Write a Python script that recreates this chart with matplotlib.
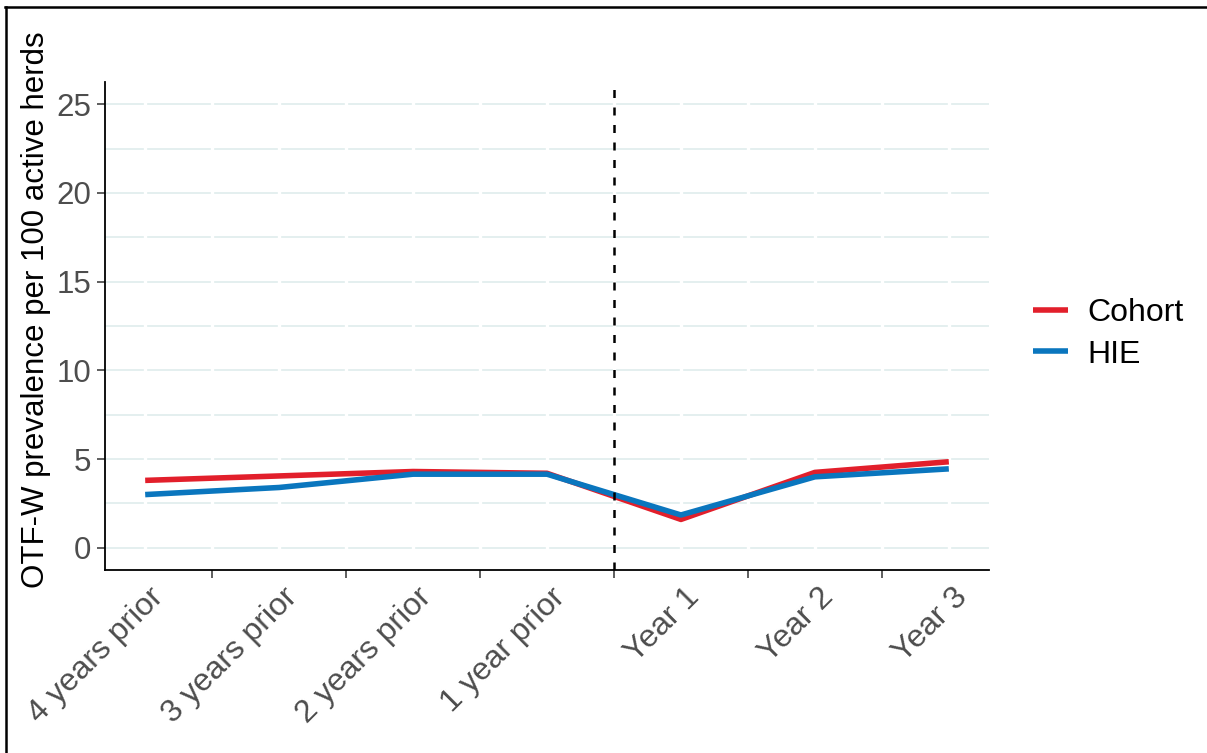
import matplotlib
matplotlib.use('Agg')
import matplotlib.pyplot as plt
import matplotlib.transforms as mtransforms
from matplotlib.lines import Line2D
import numpy as np

plt.rcParams['font.family'] = ['Liberation Sans', 'DejaVu Sans']

# data
periods = ['4 years prior', '3 years prior', '2 years prior', '1 year prior',
           'Year 1', 'Year 2', 'Year 3']
cohort = [3.8, 4.05, 4.3, 4.2, 1.6, 4.25, 4.85]
hie = [3.0, 3.4, 4.15, 4.15, 1.85, 4.0, 4.45]
y_ticks = [0, 5, 10, 15, 20, 25]
intervention_at = 3.5

red = '#E21F2B'
blue = '#0A76BE'
grid_col = '#E2EEEE'

fig = plt.figure(figsize=(12.07, 7.53), dpi=100, facecolor='w')
ax = fig.add_axes([105 / 1207, 1 - 570 / 753, (989 - 105) / 1207, (570 - 82) / 753])

x = np.arange(len(periods))

# horizontal grid (major + minor), cut by white vertical lines like the original
for yv in np.arange(0, 25.01, 2.5):
    ax.axhline(yv, color=grid_col, lw=1.3, zorder=0)
ax.vlines(np.arange(0, len(periods) - 0.99, 0.5), -1.25, 26.25,
          color='white', lw=2.4, zorder=0.5)

ax.plot(x, cohort, color=red, lw=4.0, label='Cohort', zorder=2,
        solid_capstyle='butt')
ax.plot(x, hie, color=blue, lw=4.0, label='HIE', zorder=3,
        solid_capstyle='butt')

ax.axvline(intervention_at, color='black', lw=1.8, dashes=(3.2, 3.8), zorder=4)

ax.set_xlim(-0.3, len(periods) - 1 + 0.3)
ax.set_ylim(-1.25, 26.25)

ax.set_yticks(y_ticks)
ax.set_yticklabels([str(v) for v in y_ticks], fontsize=22.5, color='#4D4D4D')
ax.tick_params(axis='y', length=6, width=1.1, color='#333333', pad=4)

ax.set_xticks(x)
ax.set_xticks(np.arange(0.5, len(periods) - 1, 0.5)[::2], minor=True)
ax.tick_params(axis='x', which='major', length=0, pad=9)
ax.tick_params(axis='x', which='minor', length=6, width=1.1, color='#333333')
ax.set_xticklabels(periods, fontsize=23, color='#4D4D4D', rotation=45,
                   ha='right', va='top', rotation_mode='anchor')
offset = mtransforms.ScaledTranslation(3 / 100, 0, fig.dpi_scale_trans)
for lab in ax.get_xticklabels():
    lab.set_transform(lab.get_transform() + offset)

for side in ['top', 'right']:
    ax.spines[side].set_visible(False)
for side in ['left', 'bottom']:
    ax.spines[side].set_linewidth(1.3)
    ax.spines[side].set_color('black')

fig.text(36 / 1207, 1 - 310 / 753, 'OTF-W prevalence per 100 active herds',
         rotation=90, fontsize=22.5, color='black', ha='center', va='center')

fig.legend(loc='center left', bbox_to_anchor=(1033 / 1207, 1 - 334 / 753),
           frameon=False, fontsize=23, handlelength=1.1, handletextpad=0.6,
           labelspacing=0.35, borderpad=0, borderaxespad=0)

# outer frame (top and left edges only)
fig.add_artist(Line2D([5 / 1207, 1], [1 - 7 / 753, 1 - 7 / 753],
                      color='black', lw=1.8, transform=fig.transFigure))
fig.add_artist(Line2D([6 / 1207, 6 / 1207], [0, 1 - 7 / 753],
                      color='black', lw=1.8, transform=fig.transFigure))

fig.savefig('out.png', dpi=100, facecolor='w')
